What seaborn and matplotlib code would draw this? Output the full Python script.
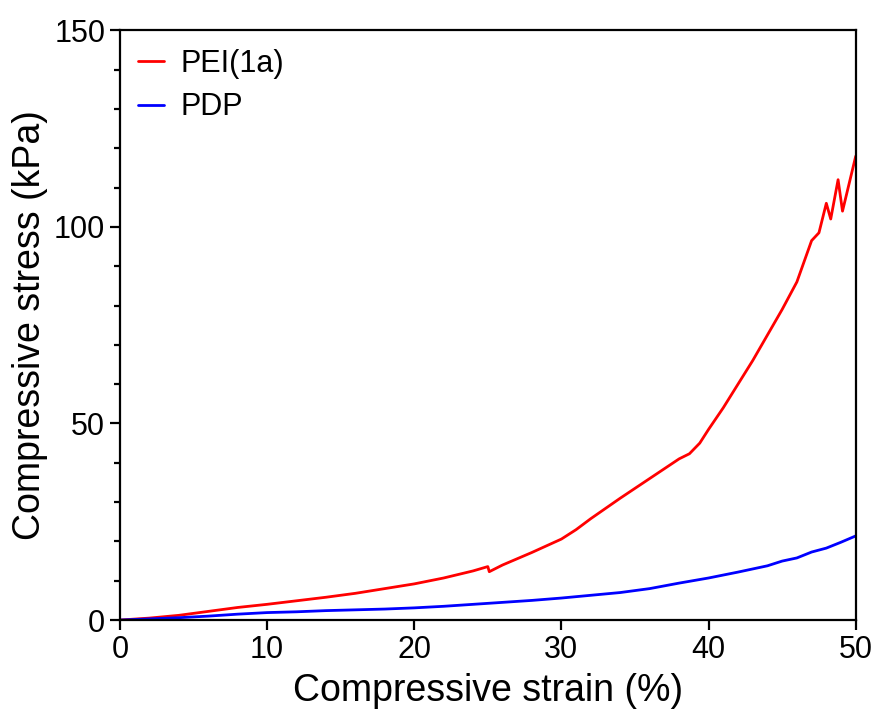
import numpy as np
import pandas as pd
import matplotlib
matplotlib.use("Agg")
import matplotlib.pyplot as plt
import seaborn as sns
from matplotlib.ticker import MultipleLocator

# values
pei_strain = [0, 2, 4, 6, 8, 10, 12, 14, 16, 18, 20, 22, 24, 25, 25.1, 26, 28,
              30, 31, 32, 33, 34, 35, 36, 37, 38, 38.7, 39.4, 40, 41, 42, 43, 44,
              45, 46, 47, 47.5, 48, 48.3, 48.8, 49.1, 50]
pei_stress = [0, 0.5, 1.2, 2.2, 3.2, 4.0, 4.9, 5.8, 6.8, 8.0, 9.2, 10.7, 12.5, 13.6,
              12.3, 14.0, 17.2, 20.6, 23.0, 25.8, 28.4, 31.0, 33.5, 36.0, 38.5, 41.0,
              42.3, 45.0, 48.5, 54.0, 60.0, 66.0, 72.5, 79.0, 86.0, 96.5, 98.5, 106.0,
              102.0, 112.0, 104.0, 118.0]

pdp_strain = [0, 2, 4, 6, 8, 10, 12, 14, 16, 18, 20, 22, 24, 26, 28, 30, 32, 34,
              36, 38, 40, 42, 44, 45, 46, 47, 48, 49, 50]
pdp_stress = [0, 0.3, 0.6, 1.0, 1.5, 1.9, 2.1, 2.4, 2.6, 2.8, 3.1, 3.5, 4.0, 4.5,
              5.0, 5.6, 6.3, 7.0, 8.0, 9.4, 10.7, 12.2, 13.8, 15.0, 15.8, 17.3,
              18.3, 19.8, 21.4]

df = pd.concat([
    pd.DataFrame({"strain": pei_strain, "stress": pei_stress, "sample": "PEI(1a)"}),
    pd.DataFrame({"strain": pdp_strain, "stress": pdp_stress, "sample": "PDP"}),
])

sns.set_style("ticks")
plt.rcParams['font.family'] = ['Liberation Sans', 'DejaVu Sans']
plt.rcParams['text.color'] = 'black'
plt.rcParams['axes.labelcolor'] = 'black'
plt.rcParams['xtick.color'] = 'black'
plt.rcParams['ytick.color'] = 'black'

fig = plt.figure(figsize=(8.75, 7.21), dpi=100)
ax = fig.add_axes([0.137, 0.140, 0.841, 0.818])

sns.lineplot(data=df, x="strain", y="stress", hue="sample",
             palette={"PEI(1a)": "#ff0000", "PDP": "#0000ff"},
             linewidth=2.0, sort=False, estimator=None, ax=ax)

ax.set_xlim(0, 50)
ax.set_ylim(0, 150)
ax.xaxis.set_major_locator(MultipleLocator(10))
ax.yaxis.set_major_locator(MultipleLocator(50))
ax.yaxis.set_minor_locator(MultipleLocator(10))

for s in ax.spines.values():
    s.set_linewidth(1.6)
    s.set_color("black")
ax.tick_params(which="major", length=7, width=1.6, labelsize=22, direction="out",
               color="black", labelcolor="black")
ax.tick_params(which="minor", length=4.5, width=1.6, direction="out", color="black")

ax.set_xlabel("Compressive strain (%)", fontsize=27, labelpad=6, color="black")
ax.set_ylabel("Compressive stress (kPa)", fontsize=27, labelpad=4, color="black")

leg = ax.legend(loc="upper left", frameon=False, fontsize=22, handlelength=0.85,
                handletextpad=0.55, labelspacing=0.45, borderaxespad=0.2,
                title=None)
for h in leg.get_lines():
    h.set_linewidth(2.0)
for t in leg.get_texts():
    t.set_color("black")

fig.savefig("out.png", dpi=100)
